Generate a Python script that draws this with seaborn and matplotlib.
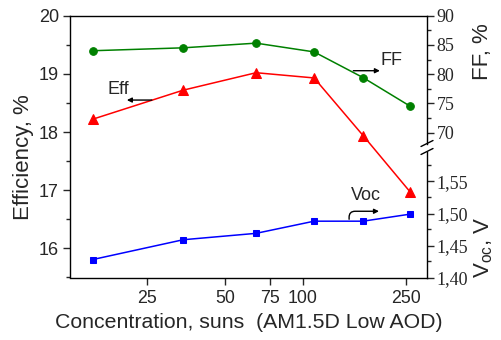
import numpy as np
import pandas as pd
import seaborn as sns
import matplotlib
matplotlib.use("Agg")
import matplotlib.pyplot as plt
from matplotlib.ticker import FixedLocator, MultipleLocator, NullLocator

# Concentration (suns) and measured cell parameters
concentration = [15.4, 34.5, 66, 110.6, 171, 260]
efficiency = [18.22, 18.72, 19.02, 18.93, 17.94, 16.97]
fill_factor = [84.0, 84.5, 85.3, 83.8, 79.4, 74.5]
voc = [1.428, 1.459, 1.469, 1.488, 1.488, 1.499]

x_ticks = [25, 50, 75, 100, 250]
x_tick_labels = ["25", "50", "75", "100", "250"]
ff_ticks = [70, 75, 80, 85, 90]
voc_ticks = [1.40, 1.45, 1.50, 1.55]
voc_tick_labels = ["1,40", "1,45", "1,50", "1,55"]

df = pd.DataFrame({"conc": concentration, "eff": efficiency,
                   "ff": fill_factor, "voc": voc})

sns.set_style("ticks")
plt.rcParams["font.family"] = ["Liberation Sans", "DejaVu Sans"]
plt.rcParams["mathtext.fontset"] = "custom"
plt.rcParams["mathtext.rm"] = "Liberation Sans"
plt.rcParams["mathtext.it"] = "Liberation Sans"

W, H = 502, 340
fig = plt.figure(figsize=(W / 100, H / 100), dpi=100)

def frac(x0, y0, x1, y1):
    return [x0 / W, 1 - y1 / H, (x1 - x0) / W, (y1 - y0) / H]

xlim = (12.6, 302)
ax_left, ax_right, ax_top, ax_bot = 70, 427, 15.7, 277.5
ax = fig.add_axes(frac(ax_left, ax_top, ax_right, ax_bot))

# Broken right axis: fill factor above, open-circuit voltage below
brk_top, brk_bot = 143.5, 151.5
ax_ff = fig.add_axes(frac(ax_left, ax_top, ax_right, brk_top))
ax_voc = fig.add_axes(frac(ax_left, brk_bot, ax_right, ax_bot))

for a in (ax, ax_ff, ax_voc):
    a.set_xscale("log")
    a.set_xlim(*xlim)

ax.set_ylim(15.5, 20)
ff_px = 5.84
ax_ff.set_ylim(90 - (brk_top - ax_top) / ff_px, 90)
voc_px = 640
ax_voc.set_ylim(1.40, 1.40 + (ax_bot - brk_bot) / voc_px)

sns.lineplot(data=df, x="conc", y="eff", ax=ax, color="#ff0000", marker="^",
             markersize=7.5, markeredgecolor="#ff0000", linewidth=1.1)
sns.lineplot(data=df, x="conc", y="ff", ax=ax_ff, color="#008000", marker="o",
             markersize=5.5, markeredgecolor="#008000", linewidth=1.1)
sns.lineplot(data=df, x="conc", y="voc", ax=ax_voc, color="#0000ff", marker="s",
             markersize=5, markeredgecolor="#0000ff", linewidth=1.1)

# Main axes: efficiency on the left
ax.xaxis.set_major_locator(FixedLocator(x_ticks))
ax.set_xticklabels(x_tick_labels)
ax.xaxis.set_minor_locator(NullLocator())
ax.yaxis.set_major_locator(MultipleLocator(1))
ax.yaxis.set_minor_locator(MultipleLocator(0.5))
ax.tick_params(axis="both", which="major", direction="out", length=5,
               width=1, labelsize=13, pad=3)
ax.tick_params(axis="x", labelsize=12.8, pad=4)
ax.tick_params(axis="y", which="minor", direction="out", length=3, width=1)
ax.tick_params(axis="x", top=False)
ax.spines["right"].set_visible(False)
for s in ("left", "bottom", "top"):
    ax.spines[s].set_linewidth(1.0)
    ax.spines[s].set_color("black")
ax.set_xlabel("Concentration, suns  (AM1.5D Low AOD)", fontsize=15.3, labelpad=4)
ax.set_ylabel("Efficiency, %", fontsize=16)
ax.yaxis.set_label_coords(-0.10, 0.459)

serif = ["Liberation Serif", "DejaVu Serif"]
for a in (ax_ff, ax_voc):
    a.patch.set_visible(False)
    for s in ("left", "top", "bottom"):
        a.spines[s].set_visible(False)
    a.spines["right"].set_linewidth(1.0)
    a.spines["right"].set_color("black")
    a.xaxis.set_visible(False)
    a.yaxis.tick_right()
    a.yaxis.set_label_position("right")
    a.tick_params(axis="y", which="major", direction="out", length=5, width=1,
                  labelsize=13, pad=2)
    a.tick_params(axis="y", which="minor", direction="out", length=3, width=1)

ax_ff.yaxis.set_major_locator(FixedLocator(ff_ticks))
ax_ff.yaxis.set_minor_locator(MultipleLocator(2.5))
ax_ff.set_yticklabels([str(t) for t in ff_ticks], family=serif)
ax_ff.set_ylabel("FF, %", fontsize=16)
ax_ff.yaxis.set_label_coords(1.126, 0.721)

ax_voc.yaxis.set_major_locator(FixedLocator(voc_ticks))
ax_voc.yaxis.set_minor_locator(MultipleLocator(0.025))
ax_voc.set_yticklabels(voc_tick_labels, family=serif)
ax_voc.set_ylabel(r"V$_{\mathrm{oc}}$, V", fontsize=16)
ax_voc.yaxis.set_label_coords(1.128, 0.238)

# Break marks on the right spine
bx = ax_right / W
for yc in (brk_top, brk_bot):
    yf = 1 - yc / H
    fig.add_artist(plt.Line2D([bx - 6 / W, bx + 6 / W], [yf - 3 / H, yf + 3 / H],
                              color="black", linewidth=1.0))

# Series labels with arrows pointing to their axes
ax.annotate("", xy=(20.9, 18.55), xytext=(26.1, 18.55),
            arrowprops=dict(arrowstyle="-|>", color="black", lw=1.0,
                            mutation_scale=7, shrinkA=0, shrinkB=0))
ax.text(19.3, 18.656, "Eff", fontsize=13, ha="center", va="baseline")

ax_ff.annotate("", xy=(198.6, 80.58), xytext=(156.8, 80.58),
               arrowprops=dict(arrowstyle="-|>", color="black", lw=1.0,
                               mutation_scale=7, shrinkA=0, shrinkB=0))
ax_ff.text(221, 81.56, "FF", fontsize=13, ha="center", va="baseline")

ax_voc.annotate("", xy=(197, 1.5035), xytext=(151, 1.491),
                arrowprops=dict(arrowstyle="-|>", color="black", lw=1.0,
                                mutation_scale=7, shrinkA=0, shrinkB=0,
                                connectionstyle="angle,angleA=90,angleB=0,rad=6"))
ax_voc.text(175.6, 1.521, "Voc", fontsize=13, ha="center", va="baseline")

fig.savefig("out.png", dpi=100)
